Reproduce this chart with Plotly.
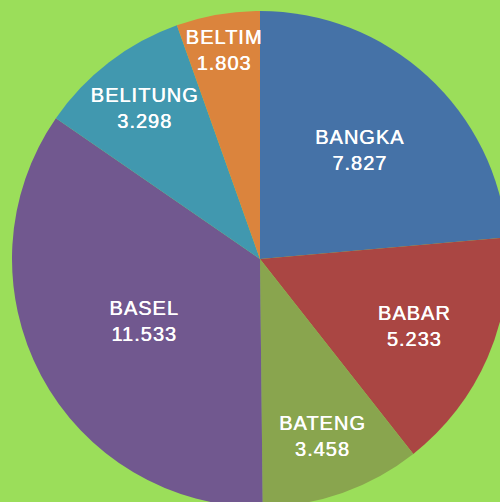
import plotly.graph_objects as go

labels = ["BANGKA", "BABAR", "BATENG", "BASEL", "BELITUNG", "BELTIM"]
values = [7.827, 5.233, 3.458, 11.533, 3.298, 1.803]
colors = ["#4572A7", "#AA4643", "#89A54E", "#71588F", "#4198AF", "#DB843D"]

W, H = 520, 518
cx, cy, R = 260, 259, 248

fig = go.Figure(go.Pie(
    labels=labels,
    values=values,
    sort=False,
    direction="clockwise",
    rotation=0,
    marker=dict(colors=colors, line=dict(width=0)),
    textinfo="label+value",
    textposition="inside",
    insidetextorientation="horizontal",
    textfont=dict(
        family="Liberation Sans, Arial, sans-serif", size=20, color="white",
        shadow="0.5px 0 0 #ffffff",
    ),
    hoverinfo="label+value",
    domain=dict(x=[(cx - R) / W, (cx + R) / W], y=[(H - cy - R) / H, (H - cy + R) / H]),
))

fig.update_layout(
    width=W, height=H,
    margin=dict(l=0, r=0, t=0, b=0),
    paper_bgcolor="#9BDE5A",
    plot_bgcolor="#9BDE5A",
    showlegend=False,
    uniformtext=dict(minsize=20, mode="show"),
)

fig.write_html(
    "out.html",
    config={"displayModeBar": False},
    post_script=(
        "document.body.style.margin='0';"
        "document.body.style.overflow='hidden';"
        "document.documentElement.style.overflow='hidden';"
        "var s=document.createElement('style');"
        "s.innerHTML='.slicetext{letter-spacing:1px;}';"
        "document.head.appendChild(s);"
    ),
)
